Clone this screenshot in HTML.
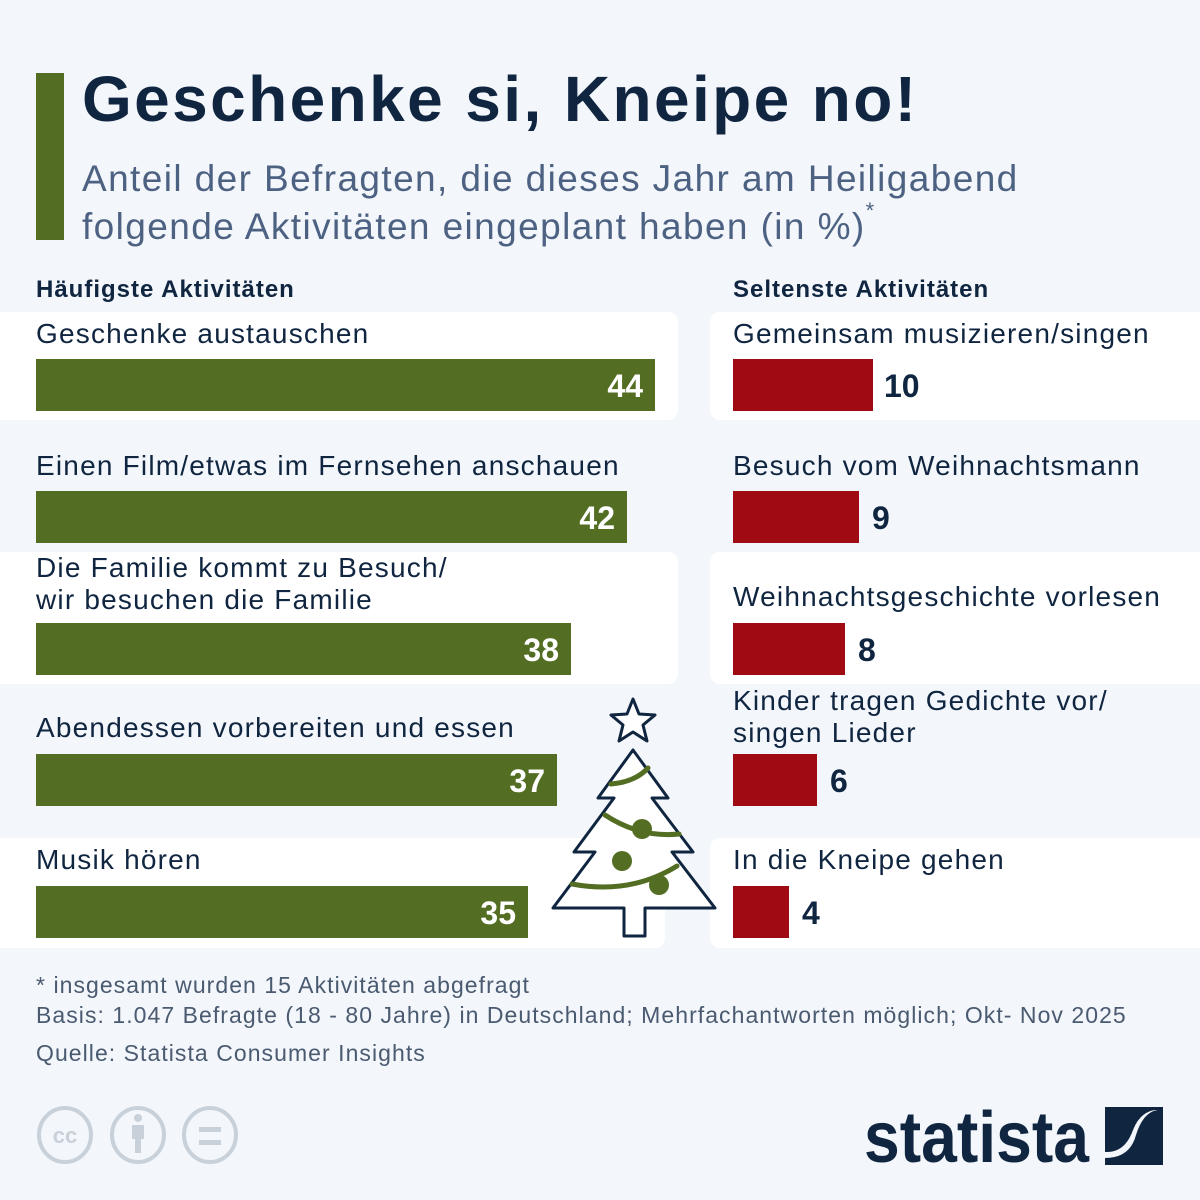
<!DOCTYPE html>
<html><head><meta charset="utf-8"><style>
body{margin:0;width:1200px;height:1200px;background:#f3f6fa;font-family:"Liberation Sans",sans-serif;position:relative;overflow:hidden;color:#0f2540}
.a{position:absolute}
.p{position:absolute;background:#fff;border-radius:10px}
.l{position:absolute;font-size:28px;letter-spacing:1.2px;color:#0f2540;line-height:32px;white-space:nowrap}
.bg{position:absolute;height:52px;background:#536e23;color:#fff;font-weight:bold;font-size:32px;text-align:right;line-height:54px;box-sizing:border-box;padding-right:12px}
.br{position:absolute;height:52px;background:#a00a12}
.v{position:absolute;font-weight:bold;font-size:32px;line-height:54px;color:#0f2540}
.h{position:absolute;font-weight:bold;font-size:24px;letter-spacing:1px;top:276px;white-space:nowrap}
.f{position:absolute;left:36px;font-size:23px;letter-spacing:1.05px;color:#4a5a70;white-space:nowrap}
</style></head><body>
<div class="a" style="left:36px;top:73px;width:28px;height:167px;background:#536e23"></div>
<div class="a" style="left:82px;top:62px;font-size:64px;letter-spacing:2.4px;font-weight:bold;color:#0f2540;white-space:nowrap">Geschenke si, Kneipe no!</div>
<div class="a" style="left:82px;top:155px;font-size:37px;letter-spacing:1.4px;line-height:48px;color:#4d6282;white-space:nowrap">Anteil der Befragten, die dieses Jahr am Heiligabend<br>folgende Aktivitäten eingeplant haben (in %)<span style="font-size:22px;vertical-align:top;line-height:0;position:relative;top:8px">*</span></div>
<div class="h" style="left:36px">Häufigste Aktivitäten</div>
<div class="h" style="left:733px">Seltenste Aktivitäten</div>

<div class="p" style="left:-10px;top:312px;width:688px;height:108px"></div>
<div class="p" style="left:-10px;top:552px;width:688px;height:132px"></div>
<div class="p" style="left:-10px;top:838px;width:675px;height:110px"></div>
<div class="p" style="left:710px;top:312px;width:500px;height:108px"></div>
<div class="p" style="left:710px;top:552px;width:500px;height:132px"></div>
<div class="p" style="left:710px;top:838px;width:500px;height:110px"></div>

<div class="l" style="left:36px;top:318px">Geschenke austauschen</div>
<div class="bg" style="left:36px;top:359px;width:619px">44</div>
<div class="l" style="left:36px;top:450px">Einen Film/etwas im Fernsehen anschauen</div>
<div class="bg" style="left:36px;top:491px;width:591px">42</div>
<div class="l" style="left:36px;top:552px">Die Familie kommt zu Besuch/<br>wir besuchen die Familie</div>
<div class="bg" style="left:36px;top:623px;width:535px">38</div>
<div class="l" style="left:36px;top:712px">Abendessen vorbereiten und essen</div>
<div class="bg" style="left:36px;top:754px;width:521px">37</div>
<div class="l" style="left:36px;top:844px">Musik hören</div>
<div class="bg" style="left:36px;top:886px;width:492px">35</div>

<div class="l" style="left:733px;top:318px">Gemeinsam musizieren/singen</div>
<div class="br" style="left:733px;top:359px;width:140px"></div><div class="v" style="left:884px;top:359px">10</div>
<div class="l" style="left:733px;top:450px">Besuch vom Weihnachtsmann</div>
<div class="br" style="left:733px;top:491px;width:126px"></div><div class="v" style="left:872px;top:491px">9</div>
<div class="l" style="left:733px;top:581px">Weihnachtsgeschichte vorlesen</div>
<div class="br" style="left:733px;top:623px;width:112px"></div><div class="v" style="left:858px;top:623px">8</div>
<div class="l" style="left:733px;top:685px">Kinder tragen Gedichte vor/<br>singen Lieder</div>
<div class="br" style="left:733px;top:754px;width:84px"></div><div class="v" style="left:830px;top:754px">6</div>
<div class="l" style="left:733px;top:844px">In die Kneipe gehen</div>
<div class="br" style="left:733px;top:886px;width:56px"></div><div class="v" style="left:802px;top:886px">4</div>

<svg class="a" style="left:0;top:0" width="1200" height="1200">
<polygon points="633,699 639,714 655,715 643,725 647,741 633,732 619,741 623,725 611,715 627,714" fill="#fff" stroke="#0f2540" stroke-width="3" stroke-linejoin="round"/>
<polygon points="633,750 668,798 652,798 693,852 672,852 715,908 645,908 645,936 624,936 624,908 553,908 595,852 574,852 614,798 598,798" fill="#fff" stroke="#0f2540" stroke-width="3" stroke-linejoin="round"/>
<g stroke="#536e23" stroke-width="5" fill="none" stroke-linecap="round">
<path d="M611,784 Q635,782 648,768"/><path d="M605,815 Q640,838 679,834"/><path d="M572,884 Q630,895 677,866"/></g>
<g fill="#536e23"><circle cx="642" cy="829" r="10"/><circle cx="622" cy="861" r="10"/><circle cx="659" cy="885" r="10"/></g>
<g fill="none" stroke="#c8d1da" stroke-width="4"><ellipse cx="65" cy="1135" rx="26" ry="27"/><ellipse cx="138" cy="1135" rx="26" ry="27"/><ellipse cx="210" cy="1135" rx="26" ry="27"/></g>
<text x="65" y="1143" font-size="22" font-weight="bold" fill="#c8d1da" text-anchor="middle" font-family="Liberation Sans">cc</text>
<g fill="#c8d1da"><circle cx="138" cy="1118" r="4"/><rect x="132" y="1125" width="12" height="14"/><rect x="135" y="1135" width="6" height="18"/><rect x="199" y="1127" width="22" height="5"/><rect x="199" y="1140" width="22" height="5"/></g>
<path d="M1105,1107 H1163 V1165 H1105 V1158 Q1130,1158 1136,1135 Q1143,1112 1158,1110 H1155 Q1140,1112 1133,1130 Q1125,1153 1105,1152 Z" fill="#0f2540"/>
<text x="864" y="1162" font-size="72" font-weight="bold" fill="#0f2540" font-family="Liberation Sans" textLength="225" lengthAdjust="spacingAndGlyphs">statista</text>
</svg>
<div class="f" style="top:972px">* insgesamt wurden 15 Aktivitäten abgefragt</div>
<div class="f" style="top:1002px">Basis: 1.047 Befragte (18 - 80 Jahre) in Deutschland; Mehrfachantworten möglich; Okt- Nov 2025</div>
<div class="f" style="top:1040px">Quelle: Statista Consumer Insights</div>
</body></html>
